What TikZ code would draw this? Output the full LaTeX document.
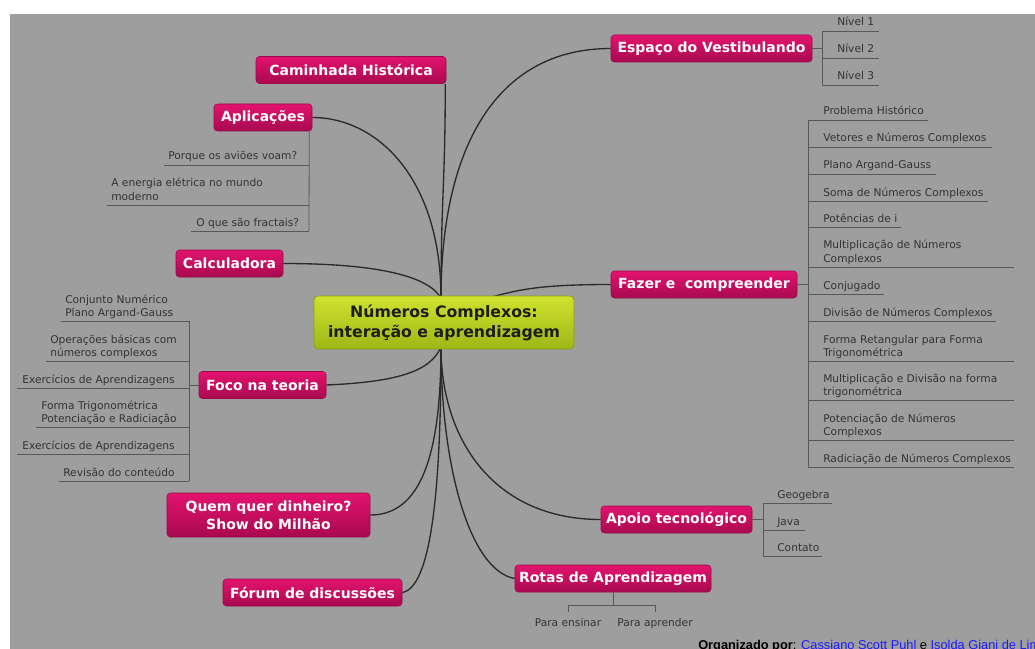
\documentclass[tikz,border=0pt]{standalone}
\usepackage{fontspec}
\setmainfont{DejaVu Sans}
\newfontfamily\arialfont{Liberation Sans}
\definecolor{bg}{HTML}{9E9E9E}
\definecolor{pinktop}{HTML}{E3136F}
\definecolor{pinkbot}{HTML}{A8094F}
\definecolor{pinkborder}{HTML}{9A0848}
\definecolor{greentop}{HTML}{CFE22E}
\definecolor{greenbot}{HTML}{9DB716}
\definecolor{greenborder}{HTML}{8AA014}
\definecolor{conncol}{HTML}{2A2A2A}
\definecolor{subline}{HTML}{585858}
\definecolor{subtext}{HTML}{333333}
\definecolor{roottext}{HTML}{1E1E1E}
\definecolor{linkblue}{HTML}{1A1AFF}
\pgfdeclarelayer{back}
\pgfdeclarelayer{conns}
\pgfsetlayers{back,conns,main}
\begin{document}
\begin{tikzpicture}[x=0.75pt,y=-0.75pt,
  topic/.style={draw=pinkborder, line width=0.4pt, rounded corners=2.5pt,
    top color=pinktop, bottom color=pinkbot, text=white,
    font=\bfseries\fontsize{10.5}{13.5}\selectfont, align=center, inner sep=0pt,
    minimum width=#1*0.75pt, minimum height=20.25pt},
  rootbox/.style={draw=greenborder, line width=0.5pt, rounded corners=3pt,
    top color=greentop, bottom color=greenbot, text=roottext,
    font=\bfseries\fontsize{11.8}{15}\selectfont, align=center, inner sep=0pt,
    minimum width=195pt, minimum height=39.75pt},
  conn/.style={draw=conncol, line width=1pt},
  sub/.style={draw=subline, line width=0.6pt},
  leaf/.style={font=\fontsize{8}{9.75}\selectfont, text=subtext, inner sep=0pt,
    align=left, anchor=base west},
]
\useasboundingbox (0,0) rectangle (1035,649);
\clip (0,0) rectangle (1035,649);
\begin{pgfonlayer}{back}
\fill[white] (0,0) rectangle (1035,649);
\fill[bg] (10,14) rectangle (1035,649);
\end{pgfonlayer}

% central node
\node[rootbox] (root) at (444,322.5) {Números Complexos:\\interação e aprendizagem};
\coordinate (hubT) at ([xshift=-2.25pt,yshift=-2pt]root.north);
\coordinate (hubB) at ([xshift=-2.25pt,yshift=2pt]root.south);
\coordinate (hubF) at ([xshift=32pt,yshift=-2pt]root.north);

% topics
\node[topic=190] (cam) at (351,70) {Caminhada Histórica};
\node[topic=98] (apl) at (263,117.5) {Aplicações};
\node[topic=107] (calc) at (229.5,263.5) {Calculadora};
\node[topic=127] (foco) at (262.5,385) {Foco na teoria};
\node[topic=203, minimum height=33pt] (quem) at (268.5,515) {Quem quer dinheiro?\\Show do Milhão};
\node[topic=179] (forum) at (312.5,592.5) {Fórum de discussões};
\node[topic=201] (esp) at (711.5,48.5) {Espaço do Vestibulando};
\node[topic=186] (fazer) at (704,284.5) {Fazer e\ \ compreender};
\node[topic=151] (apoio) at (676.5,519.5) {Apoio tecnológico};
\node[topic=196] (rotas) at (613,578.5) {Rotas de Aprendizagem};

% main connectors
\begin{pgfonlayer}{conns}
\draw[conn] ([xshift=-0.75pt]cam.south east) .. controls +(0,100) and +(0,-100) .. (hubT);
\draw[conn] (apl.east) .. controls +(65,0) and +(0,-120) .. (hubT);
\draw[conn] (calc.east) .. controls +(95,0) and +(-12,-22) .. (hubT);
\draw[conn] (esp.west) .. controls +(-115,0) and +(0,-150) .. (hubT);
\draw[conn] (fazer.west) .. controls +(-75,0) and +(30,-8) .. (hubF);
\draw[conn] (foco.east) .. controls +(70,-3) and +(-10,25) .. (hubB);
\draw[conn] (quem.east) .. controls +(50,0) and +(0,110) .. (hubB);
\draw[conn] (forum.east) .. controls +(28,-5) and +(0,150) .. (hubB);
\draw[conn] (apoio.west) .. controls +(-105,0) and +(0,95) .. (hubB);
\draw[conn] (rotas.west) .. controls +(-45,-8) and +(0,120) .. (hubB);
\end{pgfonlayer}

% Espaço do Vestibulando
\draw[sub] (esp.east) -- (822,48.5);
\draw[sub] (822,31) -- (822,85);
\node[leaf] (n1) at (837,26) {Nível 1};
\node[leaf] (n2) at (837,53) {Nível 2};
\node[leaf] (n3) at (837,80) {Nível 3};
\draw[sub] (822,31) -- (879,31);
\draw[sub] (822,58) -- (879,58);
\draw[sub] (822,85) -- (879,85);

% Fazer e compreender
\draw[sub] (fazer.east) -- (808,284.5);
\draw[sub] (808,120) -- (808,467);
\node[leaf] (f1) at (823,115) {Problema Histórico};
\node[leaf] (f2) at (823,142) {Vetores e Números Complexos};
\node[leaf] (f3) at (823,169) {Plano Argand-Gauss};
\node[leaf] (f4) at (823,196) {Soma de Números Complexos};
\node[leaf] (f5) at (823,222) {Potências de i};
\node[leaf] (f6) at (823,262) {Multiplicação de Números\\Complexos};
\node[leaf] (f7) at (823,289) {Conjugado};
\node[leaf] (f8) at (823,316) {Divisão de Números Complexos};
\node[leaf] (f9) at (823,356) {Forma Retangular para Forma\\Trigonométrica};
\node[leaf] (f10) at (823,395) {Multiplicação e Divisão na forma\\trigonométrica};
\node[leaf] (f11) at (823,435) {Potenciação de Números\\Complexos};
\node[leaf] (f12) at (823,462) {Radiciação de Números Complexos};
\draw[sub] (808,120) -- (928,120);
\draw[sub] (808,147) -- (992,147);
\draw[sub] (808,174) -- (936,174);
\draw[sub] (808,201) -- (988,201);
\draw[sub] (808,227) -- (901,227);
\draw[sub] (808,267) -- (1014,267);
\draw[sub] (808,294) -- (884,294);
\draw[sub] (808,321) -- (996,321);
\draw[sub] (808,361) -- (1014,361);
\draw[sub] (808,400) -- (1014,400);
\draw[sub] (808,440) -- (1014,440);
\draw[sub] (808,467) -- (1014,467);

% Aplicações
\draw[sub] ([xshift=-2.25pt]apl.south east) -- (309,231);
\node[leaf] (a1) at (168,160) {Porque os aviões voam?};
\node[leaf] (a2) at (111,200) {A energia elétrica no mundo\\moderno};
\node[leaf] (a3) at (196,226) {O que são fractais?};
\draw[sub] (164,165) -- (309,165);
\draw[sub] (107,205) -- (309,205);
\draw[sub] (191,231) -- (309,231);

% Foco na teoria
\draw[sub] (foco.west) -- (189,385);
\draw[sub] (189,321) -- (189,481);
\node[leaf] (t1) at (65,316) {Conjunto Numérico\\Plano Argand-Gauss};
\node[leaf] (t2) at (50,356) {Operações básicas com\\números complexos};
\node[leaf] (t3) at (22,383) {Exercícios de Aprendizagens};
\node[leaf] (t4) at (41,422) {Forma Trigonométrica\\Potenciação e Radiciação};
\node[leaf] (t5) at (22,449) {Exercícios de Aprendizagens};
\node[leaf] (t6) at (63,476) {Revisão do conteúdo};
\draw[sub] (61,321) -- (189,321);
\draw[sub] (46,361) -- (189,361);
\draw[sub] (17,388) -- (189,388);
\draw[sub] (36,427) -- (189,427);
\draw[sub] (17,454) -- (189,454);
\draw[sub] (59,481) -- (189,481);

% Apoio tecnológico
\draw[sub] (apoio.east) -- (763,519.5);
\draw[sub] (763,503) -- (763,556);
\node[leaf] (g1) at (777,498) {Geogebra};
\node[leaf] (g2) at (777,525) {Java};
\node[leaf] (g3) at (777,551) {Contato};
\draw[sub] (763,503) -- (832,503);
\draw[sub] (763,530) -- (805,530);
\draw[sub] (763,556) -- (822,556);

% Rotas de Aprendizagem
\draw[sub] (rotas.south) -- (613,605);
\draw[sub] (568,612) -- (568,605) -- (655,605) -- (655,612);
\node[leaf, anchor=base] (r1) at (568,626) {Para ensinar};
\node[leaf, anchor=base] (r2) at (655,626) {Para aprender};

% credit line
\node[anchor=base west, inner sep=0pt, font=\arialfont\fontsize{9.6}{11}\selectfont] (credit) at (698,649.5)
  {\textbf{Organizado por}: \textcolor{linkblue}{Cassiano Scott Puhl} e \textcolor{linkblue}{Isolda Giani de Lima}};
\end{tikzpicture}
\end{document}
